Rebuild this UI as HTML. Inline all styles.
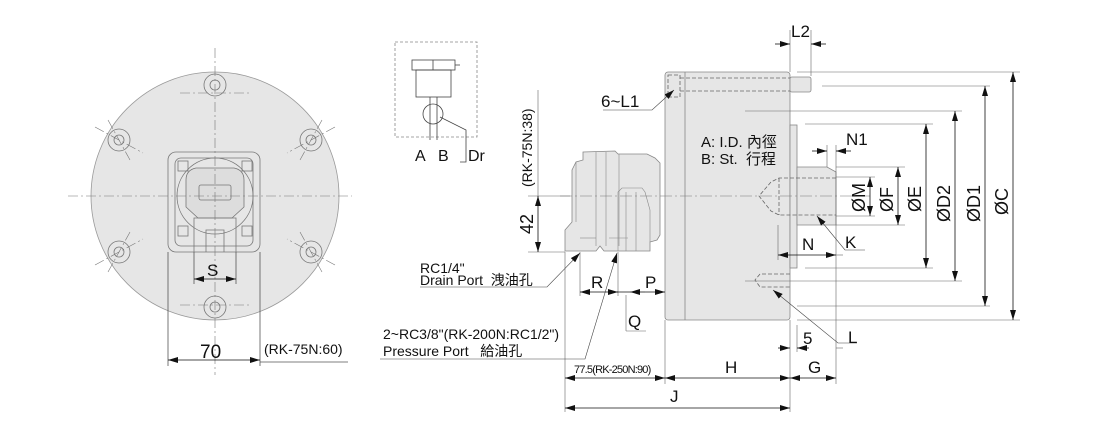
<!DOCTYPE html>
<html><head><meta charset="utf-8"><style>
html,body{margin:0;padding:0;background:#fff}
svg{display:block}
text{font-family:"Liberation Sans","Noto Sans CJK TC",sans-serif;fill:#111}
</style></head><body>
<svg width="1100" height="429" viewBox="0 0 1100 429" xmlns="http://www.w3.org/2000/svg">
<defs>
<marker id="a" viewBox="0 0 10 6" refX="10" refY="3" markerWidth="10" markerHeight="6" markerUnits="userSpaceOnUse" orient="auto-start-reverse"><path d="M0,0L10,3L0,6z" fill="#111"/></marker>
</defs>
<g stroke="#888" stroke-width="0.8" fill="none">
<circle cx="215" cy="196" r="124" fill="#e6e6e6" stroke="#999"/>
<g stroke="#777">
<circle cx="215" cy="85" r="11"/><circle cx="215" cy="85" r="5"/>
<circle cx="119" cy="140" r="11"/><circle cx="119" cy="140" r="5"/>
<circle cx="311" cy="140" r="11"/><circle cx="311" cy="140" r="5"/>
<circle cx="119" cy="252" r="11"/><circle cx="119" cy="252" r="5"/>
<circle cx="311" cy="252" r="11"/><circle cx="311" cy="252" r="5"/>
<circle cx="215" cy="307" r="11"/><circle cx="215" cy="307" r="5"/>
<rect x="168" y="152" width="92" height="100" rx="8"/>
<rect x="175" y="158" width="78" height="88" rx="6"/>
<circle cx="215" cy="196" r="38"/>
<path d="M186,207 L186,180 Q186,170 196,168 L234,168 Q244,170 244,180 L244,207 L232,218 L198,218 Z" fill="#ddd"/>
<rect x="199" y="185" width="32" height="15" rx="2"/>
<path d="M194,252 L194,218 L236,218 L236,252 M206,252 L206,230 L224,230 L224,252"/>
<rect x="178" y="161" width="10" height="10"/><rect x="242" y="161" width="10" height="10"/>
<rect x="178" y="226" width="10" height="10"/><rect x="242" y="226" width="10" height="10"/>
</g>
<g stroke="#777" stroke-dasharray="10,3,2,3" stroke-width="0.6">
<line x1="215" y1="48" x2="215" y2="375"/><line x1="68" y1="196" x2="352" y2="196"/>
<line x1="180" y1="93" x2="250" y2="93"/><line x1="180" y1="305" x2="250" y2="305"/>
<line x1="95" y1="127" x2="143" y2="153"/><line x1="335" y1="127" x2="287" y2="153"/>
<line x1="95" y1="265" x2="143" y2="239"/><line x1="335" y1="265" x2="287" y2="239"/>
<line x1="108" y1="120" x2="130" y2="160"/><line x1="322" y1="120" x2="300" y2="160"/>
<line x1="108" y1="272" x2="130" y2="232"/><line x1="322" y1="272" x2="300" y2="232"/>
</g>
<g stroke="#555">
<line x1="168" y1="252" x2="168" y2="366"/><line x1="260" y1="252" x2="260" y2="366"/>
<line x1="194" y1="252" x2="194" y2="284"/><line x1="236" y1="252" x2="236" y2="284"/>
<line x1="260" y1="362" x2="348" y2="362"/>
<line x1="168" y1="360" x2="260" y2="360" stroke="#111" marker-start="url(#a)" marker-end="url(#a)"/>
<line x1="194" y1="279" x2="236" y2="279" stroke="#111" marker-start="url(#a)" marker-end="url(#a)"/>
</g>
<rect x="395" y="42" width="82" height="95" stroke="#888" stroke-dasharray="3,2"/>
<g stroke="#444">
<rect x="412" y="60" width="43" height="10"/><line x1="433" y1="60" x2="433" y2="70"/><line x1="455" y1="65" x2="460" y2="65"/>
<rect x="416" y="70" width="35" height="27"/>
<line x1="430" y1="97" x2="430" y2="140"/><line x1="437" y1="97" x2="437" y2="140"/>
<circle cx="433" cy="114" r="10"/>
<path d="M440,117 L466,130 L466,162 L460,162"/>
</g>
<rect x="665" y="72" width="125" height="248" rx="3" fill="#e6e6e6" stroke="#888"/>
<line x1="685" y1="72" x2="685" y2="320"/>
<rect x="790" y="125" width="7" height="143" fill="#e6e6e6"/>
<path d="M797,167 L827,167 L836,172 L836,225 L797,225 Z" fill="#e6e6e6"/>
<rect x="790" y="77" width="21" height="15" fill="#e6e6e6" rx="2"/>
<g stroke-dasharray="4,2" stroke="#666">
<path d="M668,75 L680,75 L680,97 L668,97 Z"/>
<line x1="680" y1="78" x2="790" y2="78"/><line x1="680" y1="91" x2="790" y2="91"/>
<path d="M836,178 L779,178 L771,182 L759,196 L771,211 L779,215 L836,215"/>
<line x1="779" y1="178" x2="779" y2="215"/>
<path d="M790,274 L760,274 L755,280 L760,287 L790,287"/>
</g>
<path d="M565,251 L565,230 L572,222 L572,170 L576,162 L583,160 L583,152 L615,151 L618,154 L647,154 L655,158 L660,163 L660,235 L657,240 L650,242 L650,251 L604,251 L600,246 L596,251 Z" fill="#e6e6e6" stroke="#888"/>
<g stroke="#888" stroke-width="0.6">
<line x1="596" y1="152" x2="596" y2="246"/><line x1="606" y1="152" x2="606" y2="246"/><line x1="619" y1="154" x2="619" y2="246"/>
<line x1="576" y1="162" x2="576" y2="222"/>
<path d="M618,251 L618,192 L622,188 L642,188 L645,192 L650,210 L650,242"/>
<line x1="626" y1="192" x2="626" y2="251"/><line x1="636" y1="192" x2="636" y2="251"/>
<line x1="580" y1="238" x2="596" y2="238"/><line x1="609" y1="238" x2="628" y2="238"/>
</g>
<line x1="560" y1="196" x2="870" y2="196" stroke="#777" stroke-width="0.6" stroke-dasharray="12,3,2,3"/>
<g stroke="#666" stroke-width="0.6">
<line x1="790" y1="30" x2="790" y2="72"/><line x1="811" y1="30" x2="811" y2="76"/>
<line x1="797" y1="72" x2="1020" y2="72"/><line x1="822" y1="86" x2="990" y2="86"/>
<line x1="745" y1="111" x2="962" y2="111"/><line x1="805" y1="124" x2="933" y2="124"/>
<line x1="836" y1="167" x2="905" y2="167"/><line x1="836" y1="177" x2="875" y2="177"/>
<line x1="836" y1="216" x2="875" y2="216"/><line x1="836" y1="225" x2="905" y2="225"/>
<line x1="805" y1="268" x2="933" y2="268"/><line x1="745" y1="281" x2="962" y2="281"/>
<line x1="797" y1="306" x2="990" y2="306"/><line x1="797" y1="320" x2="1020" y2="320"/>
<line x1="827" y1="145" x2="827" y2="167"/><line x1="836" y1="145" x2="836" y2="384"/>
<line x1="778" y1="225" x2="778" y2="260"/>
<line x1="797" y1="325" x2="797" y2="352"/>
<line x1="790" y1="320" x2="790" y2="412"/><line x1="665" y1="320" x2="665" y2="384"/>
<line x1="565" y1="252" x2="565" y2="412"/>
<line x1="538" y1="90" x2="538" y2="196"/>
<line x1="528" y1="196" x2="570" y2="196"/><line x1="528" y1="252" x2="565" y2="252"/>
<line x1="580" y1="252" x2="580" y2="296"/><line x1="618" y1="252" x2="618" y2="296"/>
<line x1="626" y1="295" x2="626" y2="331"/><line x1="626" y1="331" x2="646" y2="331"/>
<line x1="836" y1="255" x2="843" y2="255"/>
<line x1="836" y1="348" x2="843" y2="348"/>
</g>
<g stroke="#111" stroke-width="0.8">
<line x1="775" y1="44" x2="790" y2="44" marker-end="url(#a)"/><line x1="826" y1="44" x2="811" y2="44" marker-end="url(#a)"/>
<line x1="1013" y1="72" x2="1013" y2="320" marker-start="url(#a)" marker-end="url(#a)"/>
<line x1="985" y1="86" x2="985" y2="306" marker-start="url(#a)" marker-end="url(#a)"/>
<line x1="955" y1="111" x2="955" y2="281" marker-start="url(#a)" marker-end="url(#a)"/>
<line x1="926" y1="124" x2="926" y2="268" marker-start="url(#a)" marker-end="url(#a)"/>
<line x1="898" y1="167" x2="898" y2="225" marker-start="url(#a)" marker-end="url(#a)"/>
<line x1="870" y1="177" x2="870" y2="216" marker-start="url(#a)" marker-end="url(#a)"/>
<line x1="812" y1="151" x2="827" y2="151" marker-end="url(#a)"/><line x1="851" y1="151" x2="836" y2="151" marker-end="url(#a)"/>
<line x1="778" y1="255" x2="836" y2="255" marker-start="url(#a)" marker-end="url(#a)"/>
<line x1="778" y1="348" x2="790" y2="348" marker-end="url(#a)"/><line x1="809" y1="348" x2="797" y2="348" marker-end="url(#a)"/>
<line x1="790" y1="378" x2="836" y2="378" marker-start="url(#a)" marker-end="url(#a)"/>
<line x1="665" y1="378" x2="790" y2="378" marker-start="url(#a)" marker-end="url(#a)"/>
<line x1="565" y1="378" x2="665" y2="378" marker-start="url(#a)" marker-end="url(#a)"/>
<line x1="565" y1="408" x2="790" y2="408" marker-start="url(#a)" marker-end="url(#a)"/>
<line x1="538" y1="196" x2="538" y2="252" marker-start="url(#a)" marker-end="url(#a)"/>
<line x1="580" y1="292" x2="618" y2="292" marker-start="url(#a)" marker-end="url(#a)"/>
<line x1="610" y1="292" x2="630" y2="292"/>
<line x1="630" y1="292" x2="645" y2="292" marker-start="url(#a)"/><line x1="665" y1="292" x2="645" y2="292" marker-start="url(#a)"/>
</g>
<g stroke="#444" stroke-width="0.6">
<path d="M603,110 L652,110 L674,90" marker-end="url(#a)"/>
<path d="M420,287 L547,287 L580,253" marker-end="url(#a)"/>
<path d="M380,359 L585,359 L617,253" marker-end="url(#a)"/>
<path d="M865,250 L845,250 L817,216" marker-end="url(#a)"/>
<path d="M857,343 L838,343 L773,290" marker-end="url(#a)"/>
</g>
</g>
<g font-size="17">
<text x="207" y="276">S</text>
<text x="200" y="358" font-size="19">70</text>
<text x="791" y="37">L2</text>
<text x="601" y="107">6~L1</text>
<text x="846" y="145">N1</text>
<text x="802" y="250">N</text>
<text x="845" y="248">K</text>
<text x="803" y="344">5</text>
<text x="848" y="343">L</text>
<text x="808" y="373">G</text>
<text x="725" y="373">H</text>
<text x="670" y="402">J</text>
<text x="591" y="288">R</text>
<text x="645" y="288">P</text>
<text x="628" y="327">Q</text>
<text x="415" y="161" font-size="16">A</text>
<text x="438" y="161" font-size="16">B</text>
<text x="468" y="161" font-size="16">Dr</text>
</g>
<g font-size="14">
<text x="264" y="354">(RK-75N:60)</text>
<text x="420" y="273">RC1/4"</text>
<text x="420" y="285">Drain Port&#160; 洩油孔</text>
<text x="383" y="339">2~RC3/8"(RK-200N:RC1/2")</text>
<text x="383" y="356">Pressure Port&#160;&#160; 給油孔</text>
<text x="701" y="147" font-size="15">A: I.D. 內徑</text>
<text x="701" y="164" font-size="15">B: St.&#160; 行程</text>
<text x="574" y="373" font-size="11" letter-spacing="-0.8">77.5(RK-250N:90)</text>
<text transform="translate(532,187) rotate(-90)" font-size="14">(RK-75N:38)</text>
<text transform="translate(533,234) rotate(-90)" font-size="18">42</text>
<text transform="translate(865,212) rotate(-90)" font-size="18">ØM</text>
<text transform="translate(893,212) rotate(-90)" font-size="18">ØF</text>
<text transform="translate(921,212) rotate(-90)" font-size="18">ØE</text>
<text transform="translate(950,222) rotate(-90)" font-size="18">ØD2</text>
<text transform="translate(980,222) rotate(-90)" font-size="18">ØD1</text>
<text transform="translate(1008,215) rotate(-90)" font-size="18">ØC</text>
</g>
</svg>
</body></html>
